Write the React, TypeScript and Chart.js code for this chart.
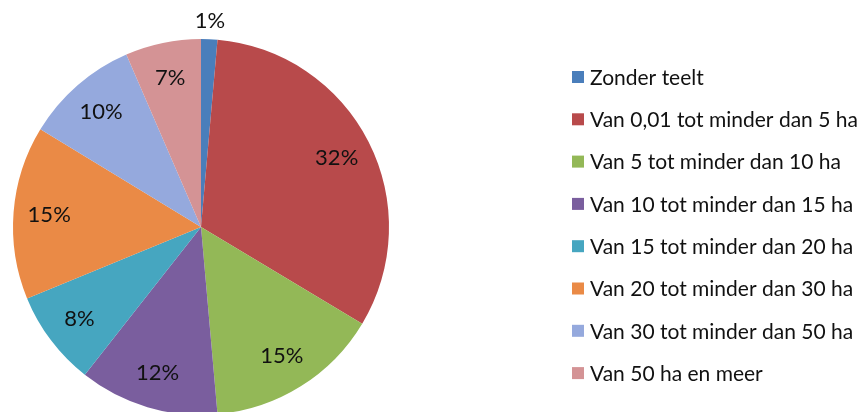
import React, { useEffect, useRef } from "react";
import { Chart, registerables } from "chart.js";

Chart.register(...registerables);

const categories = [
  "Zonder teelt",
  "Van 0,01 tot minder dan 5 ha",
  "Van 5 tot minder dan 10 ha",
  "Van 10 tot minder dan 15 ha",
  "Van 15 tot minder dan 20 ha",
  "Van 20 tot minder dan 30 ha",
  "Van 30 tot minder dan 50 ha",
  "Van 50 ha en meer",
];

const shares = [1.4, 32.2, 15.0, 12.0, 8.2, 14.9, 9.8, 6.5];

const colors = [
  "#4A7EBB",
  "#B84A4B",
  "#93B857",
  "#7A5E9E",
  "#46A6C0",
  "#EA8A46",
  "#95A9DD",
  "#D49395",
];

const FONT = "Lato, 'Open Sans', sans-serif";

const labelPlugin = {
  id: "pieLabels",
  afterDatasetsDraw(chart: any) {
    const ctx = chart.ctx;
    const meta = chart.getDatasetMeta(0);
    const data = chart.data.datasets[0].data as number[];
    const total = data.reduce((a: number, b: number) => a + b, 0);
    ctx.save();
    ctx.font = `22px ${FONT}`;
    ctx.fillStyle = "#111";
    ctx.textAlign = "center";
    ctx.textBaseline = "middle";
    meta.data.forEach((arc: any, i: number) => {
      const p = arc.getProps(["x", "y", "startAngle", "endAngle", "outerRadius"], true);
      const mid = (p.startAngle + p.endAngle) / 2;
      const pct = (data[i] / total) * 100;
      const r = pct < 3 ? p.outerRadius + 18 : p.outerRadius * 0.81;
      const x = p.x + Math.cos(mid) * r;
      const y = p.y + Math.sin(mid) * r;
      ctx.fillText(`${Math.round(pct)}%`, x, y);
    });
    ctx.restore();
  },
};

const legendPlugin = {
  id: "sideLegend",
  afterDraw(chart: any) {
    const ctx = chart.ctx;
    const labels = chart.data.labels as string[];
    const bg = chart.data.datasets[0].backgroundColor as string[];
    ctx.save();
    ctx.font = `21px ${FONT}`;
    ctx.textBaseline = "middle";
    ctx.textAlign = "left";
    const x0 = 572;
    const y0 = 77;
    const step = 42.3;
    labels.forEach((lab, i) => {
      const y = y0 + i * step;
      ctx.fillStyle = bg[i];
      ctx.fillRect(x0, y - 6, 12, 12);
      ctx.fillStyle = "#111";
      ctx.fillText(lab, x0 + 18, y + 1);
    });
    ctx.restore();
  },
};

export default function App() {
  const ref = useRef<HTMLCanvasElement>(null);
  useEffect(() => {
    if (!ref.current) return;
    const chart = new Chart(ref.current, {
      type: "pie",
      data: {
        labels: categories,
        datasets: [
          {
            data: shares,
            backgroundColor: colors,
            borderWidth: 0,
          },
        ],
      },
      options: {
        responsive: false,
        animation: false,
        devicePixelRatio: 1,
        layout: { padding: { left: 13, right: 478, top: 39, bottom: 5 } },
        plugins: {
          legend: { display: false },
          tooltip: { enabled: false },
        },
      },
      plugins: [labelPlugin, legendPlugin],
    });
    return () => chart.destroy();
  }, []);
  return (
    <div
      style={{
        position: "fixed",
        left: 0,
        top: 0,
        width: 867,
        height: 412,
        overflow: "hidden",
        background: "#fff",
      }}
    >
      <canvas ref={ref} width={867} height={420} style={{ width: 867, height: 420, display: "block" }} />
    </div>
  );
}
